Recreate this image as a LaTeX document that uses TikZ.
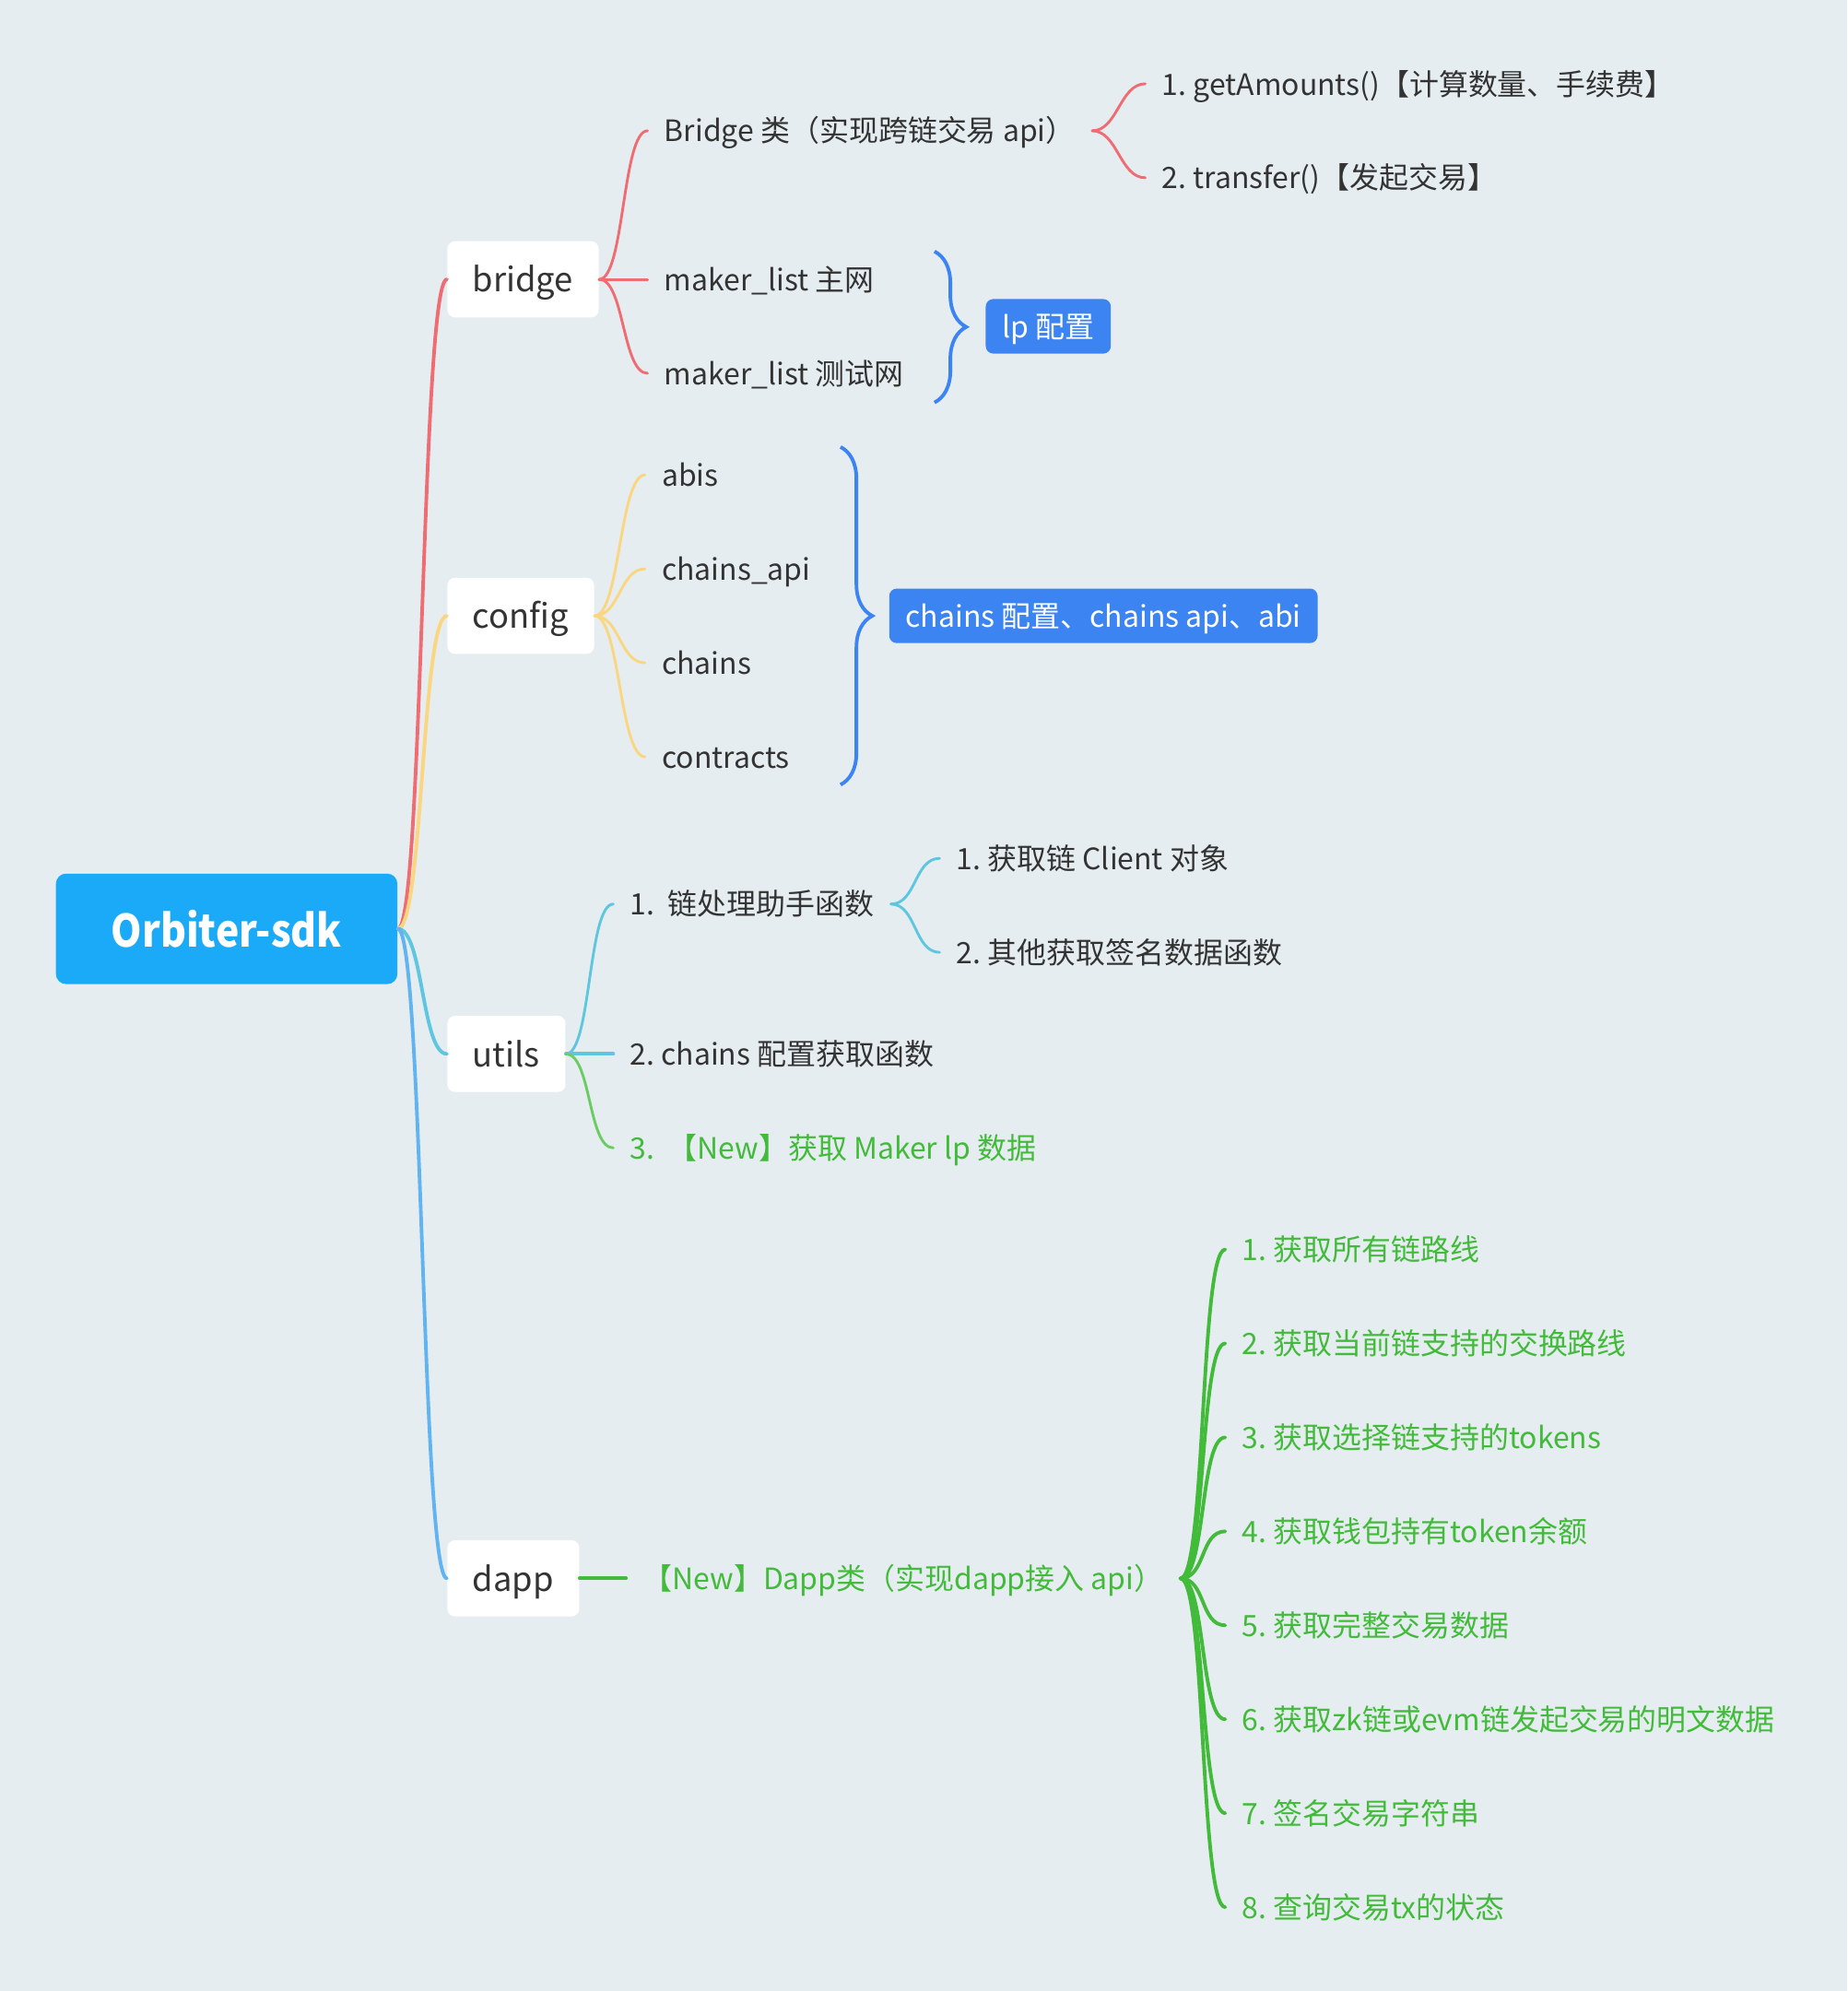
\documentclass[tikz,border=0pt]{standalone}
\usepackage{fontspec}
\usepackage{graphicx}
\setmainfont{Noto Sans CJK SC}
\usetikzlibrary{decorations.pathreplacing}
\definecolor{bgcol}{RGB}{230,237,241}
\definecolor{rootblue}{RGB}{27,170,247}
\definecolor{tagblue}{RGB}{60,132,242}
\definecolor{inkgrey}{RGB}{51,51,51}
\definecolor{linered}{RGB}{238,108,114}
\definecolor{lineyellow}{RGB}{250,214,128}
\definecolor{linecyan}{RGB}{94,198,222}
\definecolor{linesky}{RGB}{98,180,240}
\definecolor{linegreen}{RGB}{108,204,98}
\definecolor{newgreen}{RGB}{66,186,58}
\frenchspacing
\begin{document}
\begin{tikzpicture}[x=0.02cm,y=-0.02cm,
  rootbox/.style={fill=rootblue,text=white,rounded corners=0.16cm,minimum width=5.38cm,minimum height=1.74cm,font=\fontsize{20}{24}\selectfont\bfseries},
  topic/.style={anchor=west,fill=white,text=inkgrey,rounded corners=0.12cm,minimum height=1.2cm,inner xsep=0.4cm,font=\fontsize{15}{18}\selectfont,text height=13.2pt,text depth=1.8pt},
  leaf/.style={anchor=west,inner xsep=0.26cm,inner ysep=0pt,text=inkgrey,font=\fontsize{13.2}{16}\selectfont,text height=11.6pt,text depth=1.6pt},
  newleaf/.style={leaf,text=newgreen},
  tag/.style={anchor=west,fill=tagblue,text=white,rounded corners=0.12cm,minimum height=0.86cm,inner xsep=0.26cm,font=\fontsize{13.2}{16}\selectfont,text height=11.6pt,text depth=1.6pt},
  limb/.style={line width=1.6pt,line cap=round},
  twig/.style={line width=1.2pt,line cap=round},
  sway/.style={to path={.. controls +(20,0) and +(-20,0) .. (\tikztotarget)}},
  curly/.style={decorate,decoration={brace,amplitude=0.5cm},line width=1.6pt,tagblue}]
\fill[bgcol] (0,0) rectangle (1455,1568);
\useasboundingbox (0,0) rectangle (1455,1568);
\node[rootbox] (root) at (178.5,731.5) {\scalebox{0.88}[1]{Orbiter-sdk}};
\node[topic] (bridge) at (352,220) {bridge};
\node[topic] (config) at (352,485) {config};
\node[topic] (utils) at (352,830) {utils};
\node[topic] (dapp) at (352,1243) {dapp};
\node[leaf] (b1) at (510,103) {Bridge 类（实现跨链交易 api）};
\node[leaf] (b2) at (510,220) {maker\_list 主网};
\node[leaf] (b3) at (510,294) {maker\_list 测试网};
\node[leaf] (b11) at (902,66) {1. getAmounts()【计算数量、手续费】};
\node[leaf] (b12) at (902,140) {2. transfer()【发起交易】};
\node[tag] (lp) at (776,257) {lp 配置};
\node[leaf] (c1) at (508,374) {abis};
\node[leaf] (c2) at (508,448) {chains\_api};
\node[leaf] (c3) at (508,522) {chains};
\node[leaf] (c4) at (508,596) {contracts};
\node[tag] (cfg) at (700,485) {chains 配置、chains api、abi};
\node[leaf] (u1) at (483,712) {1.~~链处理助手函数};
\node[leaf] (u2) at (483,830) {2. chains 配置获取函数};
\node[newleaf] (u3) at (483,904) {3.~~【New】获取 Maker lp 数据};
\node[leaf] (u11) at (740,676) {1. 获取链 Client 对象};
\node[leaf] (u12) at (740,750) {2. 其他获取签名数据函数};
\node[newleaf] (d0) at (493,1243) {【New】Dapp类（实现dapp接入 api）};
\node[newleaf] (d1) at (965,984) {1. 获取所有链路线};
\node[newleaf] (d2) at (965,1058) {2. 获取当前链支持的交换路线};
\node[newleaf] (d3) at (965,1132) {3. 获取选择链支持的tokens};
\node[newleaf] (d4) at (965,1206) {4. 获取钱包持有token余额};
\node[newleaf] (d5) at (965,1280) {5. 获取完整交易数据};
\node[newleaf] (d6) at (965,1354) {6. 获取zk链或evm链发起交易的明文数据};
\node[newleaf] (d7) at (965,1428) {7. 签名交易字符串};
\node[newleaf] (d8) at (965,1502) {8. 查询交易tx的状态};
\coordinate (lptop) at (736,198);
\coordinate (lpbot) at (736,317);
\coordinate (cfgtop) at (662,352);
\coordinate (cfgbot) at (662,618);
\draw[limb,linered] (root.east) to[sway] (bridge.west);
\draw[limb,lineyellow] (root.east) to[sway] (config.west);
\draw[limb,linecyan] (root.east) to[sway] (utils.west);
\draw[limb,linesky] (root.east) to[sway] (dapp.west);
\draw[twig,linered] (bridge.east) to[sway] (b1.west);
\draw[twig,linered] (bridge.east) -- (b2.west);
\draw[twig,linered] (bridge.east) to[sway] (b3.west);
\draw[twig,linered] (b1.east) to[sway] (b11.west);
\draw[twig,linered] (b1.east) to[sway] (b12.west);
\draw[curly] (lptop) -- (lpbot);
\draw[twig,lineyellow] (config.east) to[sway] (c1.west);
\draw[twig,lineyellow] (config.east) to[sway] (c2.west);
\draw[twig,lineyellow] (config.east) to[sway] (c3.west);
\draw[twig,lineyellow] (config.east) to[sway] (c4.west);
\draw[curly] (cfgtop) -- (cfgbot);
\draw[twig,linecyan] (utils.east) to[sway] (u1.west);
\draw[limb,linecyan] (utils.east) -- (u2.west);
\draw[twig,linegreen] (utils.east) to[sway] (u3.west);
\draw[twig,linecyan] (u1.east) to[sway] (u11.west);
\draw[twig,linecyan] (u1.east) to[sway] (u12.west);
\draw[limb,newgreen] (dapp.east) -- (d0.west);
\draw[limb,newgreen] (d0.east) to[sway] (d1.west);
\draw[limb,newgreen] (d0.east) to[sway] (d2.west);
\draw[limb,newgreen] (d0.east) to[sway] (d3.west);
\draw[limb,newgreen] (d0.east) to[sway] (d4.west);
\draw[limb,newgreen] (d0.east) to[sway] (d5.west);
\draw[limb,newgreen] (d0.east) to[sway] (d6.west);
\draw[limb,newgreen] (d0.east) to[sway] (d7.west);
\draw[limb,newgreen] (d0.east) to[sway] (d8.west);
\end{tikzpicture}
\end{document}
